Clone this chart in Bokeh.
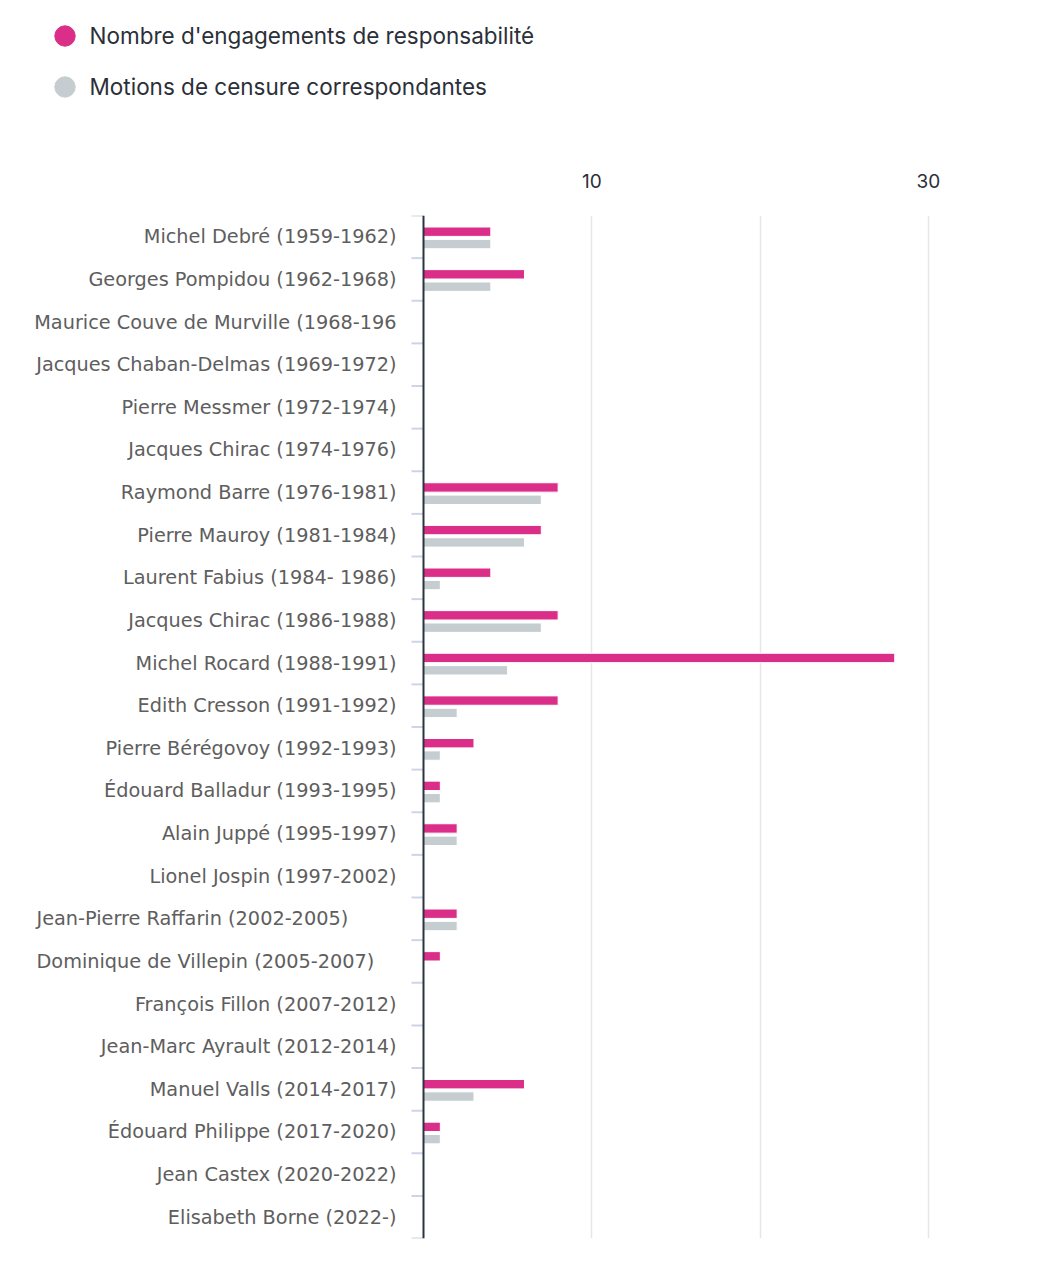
from bokeh.plotting import figure
from bokeh.layouts import column
from bokeh.models import (ColumnDataSource, FactorRange, Range1d, FixedTicker, Span,
                          Legend, LegendItem)
from bokeh.transform import dodge
from bokeh.core.properties import value
from bokeh.embed import file_html
from bokeh.resources import INLINE

# ---- data ----
names = [
    "Michel Debré (1959-1962)",
    "Georges Pompidou (1962-1968)",
    "Maurice Couve de Murville (1968-196",
    "Jacques Chaban-Delmas (1969-1972)",
    "Pierre Messmer (1972-1974)",
    "Jacques Chirac (1974-1976)",
    "Raymond Barre (1976-1981)",
    "Pierre Mauroy (1981-1984)",
    "Laurent Fabius (1984- 1986)",
    "Jacques Chirac (1986-1988)",
    "Michel Rocard (1988-1991)",
    "Edith Cresson (1991-1992)",
    "Pierre Bérégovoy (1992-1993)",
    "Édouard Balladur (1993-1995)",
    "Alain Juppé (1995-1997)",
    "Lionel Jospin (1997-2002)",
    "Jean-Pierre Raffarin (2002-2005)",
    "Dominique de Villepin (2005-2007)",
    "François Fillon (2007-2012)",
    "Jean-Marc Ayrault (2012-2014)",
    "Manuel Valls (2014-2017)",
    "Édouard Philippe (2017-2020)",
    "Jean Castex (2020-2022)",
    "Elisabeth Borne (2022-)",
]
engagements = [4, 6, 0, 0, 0, 0, 8, 7, 4, 8, 28, 8, 3, 1, 2, 0, 2, 1, 0, 0, 6, 1, 0, 0]
motions = [4, 4, 0, 0, 0, 0, 7, 6, 1, 7, 5, 2, 1, 1, 2, 0, 2, 0, 0, 0, 3, 1, 0, 0]
series_labels = ["Nombre d'engagements de responsabilité", "Motions de censure correspondantes"]
axis_ticks = [10, 30]
grid_ticks = [10, 20, 30]
left_aligned = {"Jean-Pierre Raffarin (2002-2005)", "Dominique de Villepin (2005-2007)"}

PINK = "#da2e89"
GREY = "#c6cdd0"

W = 1030
LEG_H = 130
MAIN_H = 1268 - LEG_H
ZERO_PX = 423.0
PX_PER_UNIT = 16.83

# ---------------- legend figure ----------------
lf = figure(width=W, height=LEG_H, x_range=Range1d(0, 1), y_range=Range1d(0, 1),
            toolbar_location=None, output_backend="svg",
            min_border_left=0, min_border_right=0, min_border_top=0, min_border_bottom=0,
            x_axis_location=None, y_axis_location=None)
lf.outline_line_color = None
lf.grid.visible = False
# swatch renderers (no visible data; used only for the legend glyphs)
sw1 = ColumnDataSource(dict(x=[float("nan")], y=[float("nan")]))
sw2 = ColumnDataSource(dict(x=[float("nan")], y=[float("nan")]))
l1 = lf.scatter(x="x", y="y", source=sw1, marker="circle", fill_color=PINK, line_color=PINK)
l2 = lf.scatter(x="x", y="y", source=sw2, marker="circle", fill_color=GREY, line_color=GREY)
legend = Legend(
    items=[LegendItem(label=series_labels[0], renderers=[l1], index=0),
           LegendItem(label=series_labels[1], renderers=[l2], index=0)],
    location=(38.5, LEG_H - 103.5 - 8), orientation="vertical",
    glyph_width=51, glyph_height=51, label_standoff=0, spacing=0, padding=0, margin=0,
    label_text_font="Inter", label_text_font_size="22.5px", label_text_color="#2b2f38",
    border_line_color=None, background_fill_alpha=0,
)
lf.add_layout(legend, "center")

# ---------------- main figure ----------------
src = ColumnDataSource(dict(name=names, engagements=engagements, motions=motions))

p = figure(
    width=W, height=MAIN_H,
    y_range=FactorRange(factors=list(reversed(names))),
    x_range=Range1d(-ZERO_PX / PX_PER_UNIT, (W - ZERO_PX) / PX_PER_UNIT),
    x_axis_location="above", y_axis_location=None,
    toolbar_location=None, output_backend="svg",
    min_border_left=0, min_border_right=0, min_border_top=215 - LEG_H, min_border_bottom=30,
)
p.outline_line_color = None

p.ygrid.visible = False
p.xgrid.ticker = FixedTicker(ticks=grid_ticks)
p.xgrid.grid_line_color = "#e6e6e6"
p.xgrid.grid_line_width = 1.5

ax = p.xaxis[0]
ax.ticker = FixedTicker(ticks=axis_ticks)
ax.axis_line_color = None
ax.major_tick_line_color = None
ax.minor_tick_line_color = None
ax.major_tick_in = 0
ax.major_tick_out = 0
ax.major_label_standoff = 28
ax.major_label_text_font = "Inter"
ax.major_label_text_font_size = "19px"
ax.major_label_text_color = "#2b2f38"

# bars
p.hbar(y=dodge("name", 0.12, range=p.y_range), right="engagements", height=0.22,
       source=src, fill_color=PINK, line_color="white", line_width=1)
p.hbar(y=dodge("name", -0.17, range=p.y_range), right="motions", height=0.22,
       source=src, fill_color=GREY, line_color="white", line_width=1)

# category boundary ticks
tick_x0 = -12 / PX_PER_UNIT
p.segment(x0=tick_x0, x1=0, y0=dodge("name", -0.5, range=p.y_range),
          y1=dodge("name", -0.5, range=p.y_range), source=src,
          line_color="#ccd4e6", line_width=2)
first_src = ColumnDataSource(dict(name=[names[0]]))
p.segment(x0=tick_x0, x1=0, y0=dodge("name", 0.5, range=p.y_range),
          y1=dodge("name", 0.5, range=p.y_range), source=first_src,
          line_color="#ccd4e6", line_width=2)

# axis line
p.add_layout(Span(location=0, dimension="height", line_color="#2b3340", line_width=2))

# category labels
right_src = ColumnDataSource(dict(name=[n for n in names if n not in left_aligned]))
left_src = ColumnDataSource(dict(name=[n for n in names if n in left_aligned]))
common = dict(x=0, y="name", text="name", text_font=value("DejaVu Sans"),
              text_font_size="19.3px", text_color="#5e5e5e", text_baseline="middle")
p.text(source=right_src, x_offset=-27, text_align="right", **common)
p.text(source=left_src, x_offset=-387, text_align="left", **common)

layout = column(lf, p, spacing=0)
open("out.html", "w").write(file_html(layout, INLINE))
